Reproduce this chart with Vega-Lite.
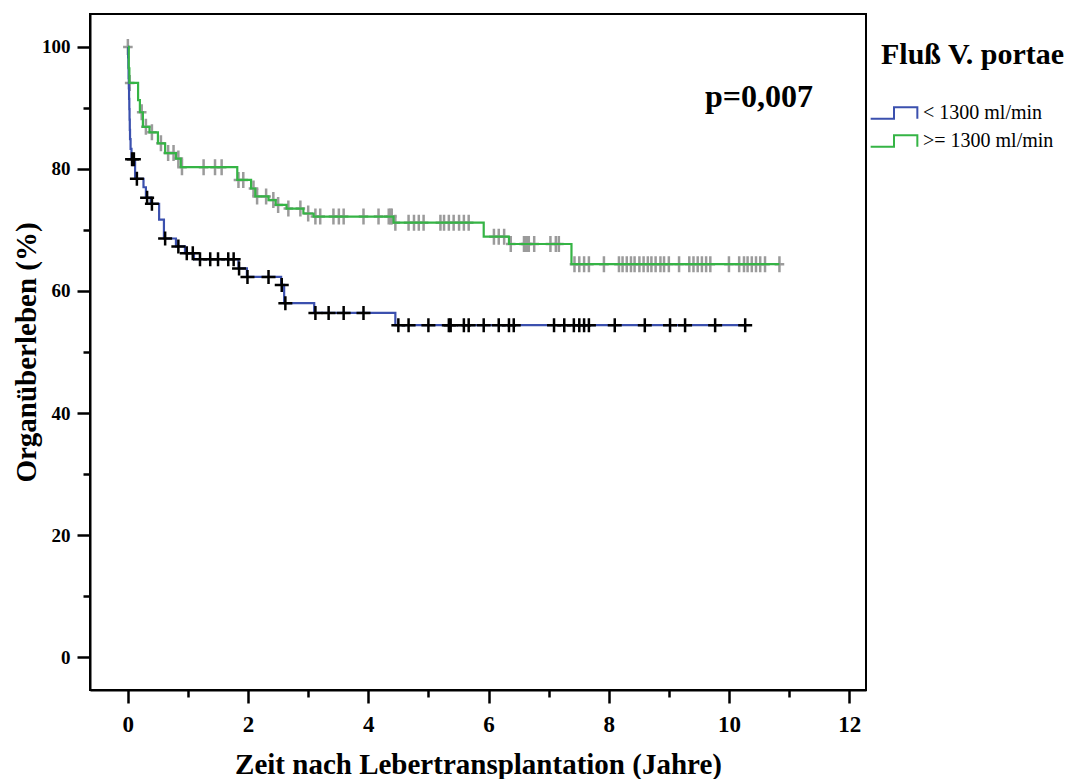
{
  "$schema": "https://vega.github.io/schema/vega-lite/v6.json",
  "width": 776,
  "height": 676,
  "autosize": "none",
  "padding": {"left": 90, "top": 14, "right": 214, "bottom": 89},
  "background": "white",
  "config": {
    "font": "Liberation Serif",
    "view": {"stroke": "black", "strokeWidth": 2}
  },
  "datasets": {
    "km": [
      {"grp": "< 1300 ml/min", "t": 0, "s": 100},
      {"grp": "< 1300 ml/min", "t": 0.004, "s": 98.3},
      {"grp": "< 1300 ml/min", "t": 0.008, "s": 96.6},
      {"grp": "< 1300 ml/min", "t": 0.012, "s": 94.9},
      {"grp": "< 1300 ml/min", "t": 0.016, "s": 93.2},
      {"grp": "< 1300 ml/min", "t": 0.02, "s": 91.5},
      {"grp": "< 1300 ml/min", "t": 0.024, "s": 89.8},
      {"grp": "< 1300 ml/min", "t": 0.028, "s": 88.1},
      {"grp": "< 1300 ml/min", "t": 0.032, "s": 86.4},
      {"grp": "< 1300 ml/min", "t": 0.036, "s": 84.9},
      {"grp": "< 1300 ml/min", "t": 0.045, "s": 83.3},
      {"grp": "< 1300 ml/min", "t": 0.06, "s": 81.6},
      {"grp": "< 1300 ml/min", "t": 0.12, "s": 78.4},
      {"grp": "< 1300 ml/min", "t": 0.26, "s": 77.0},
      {"grp": "< 1300 ml/min", "t": 0.3, "s": 75.3},
      {"grp": "< 1300 ml/min", "t": 0.38, "s": 74.3},
      {"grp": "< 1300 ml/min", "t": 0.52, "s": 71.7},
      {"grp": "< 1300 ml/min", "t": 0.6, "s": 68.6},
      {"grp": "< 1300 ml/min", "t": 0.8, "s": 67.3},
      {"grp": "< 1300 ml/min", "t": 0.95, "s": 66.2},
      {"grp": "< 1300 ml/min", "t": 1.1, "s": 65.2},
      {"grp": "< 1300 ml/min", "t": 1.84, "s": 63.7},
      {"grp": "< 1300 ml/min", "t": 1.98, "s": 62.3},
      {"grp": "< 1300 ml/min", "t": 2.55, "s": 61.0},
      {"grp": "< 1300 ml/min", "t": 2.6, "s": 58.0},
      {"grp": "< 1300 ml/min", "t": 3.1, "s": 56.4},
      {"grp": "< 1300 ml/min", "t": 4.45, "s": 54.4},
      {"grp": "< 1300 ml/min", "t": 10.27, "s": 54.4},
      {"grp": ">= 1300 ml/min", "t": 0, "s": 100},
      {"grp": ">= 1300 ml/min", "t": 0.015, "s": 96.5},
      {"grp": ">= 1300 ml/min", "t": 0.025, "s": 94.1},
      {"grp": ">= 1300 ml/min", "t": 0.17, "s": 91.3},
      {"grp": ">= 1300 ml/min", "t": 0.2, "s": 89.3},
      {"grp": ">= 1300 ml/min", "t": 0.25, "s": 86.9},
      {"grp": ">= 1300 ml/min", "t": 0.36, "s": 86.0},
      {"grp": ">= 1300 ml/min", "t": 0.5, "s": 84.2},
      {"grp": ">= 1300 ml/min", "t": 0.62, "s": 82.6},
      {"grp": ">= 1300 ml/min", "t": 0.8, "s": 81.7},
      {"grp": ">= 1300 ml/min", "t": 0.88, "s": 80.3},
      {"grp": ">= 1300 ml/min", "t": 1.82, "s": 78.2},
      {"grp": ">= 1300 ml/min", "t": 2.05, "s": 76.8},
      {"grp": ">= 1300 ml/min", "t": 2.12, "s": 75.5},
      {"grp": ">= 1300 ml/min", "t": 2.34, "s": 74.9},
      {"grp": ">= 1300 ml/min", "t": 2.46, "s": 74.1},
      {"grp": ">= 1300 ml/min", "t": 2.64, "s": 73.5},
      {"grp": ">= 1300 ml/min", "t": 2.92, "s": 72.7},
      {"grp": ">= 1300 ml/min", "t": 3.09, "s": 72.2},
      {"grp": ">= 1300 ml/min", "t": 4.42, "s": 71.2},
      {"grp": ">= 1300 ml/min", "t": 5.92, "s": 68.9},
      {"grp": ">= 1300 ml/min", "t": 6.34, "s": 67.7},
      {"grp": ">= 1300 ml/min", "t": 7.38, "s": 64.4},
      {"grp": ">= 1300 ml/min", "t": 10.84, "s": 64.4}
    ],
    "censored": [
      {"grp": "< 1300 ml/min", "t": 0.07, "s": 81.6},
      {"grp": "< 1300 ml/min", "t": 0.1, "s": 81.6},
      {"grp": "< 1300 ml/min", "t": 0.15, "s": 78.4},
      {"grp": "< 1300 ml/min", "t": 0.32, "s": 75.3},
      {"grp": "< 1300 ml/min", "t": 0.4, "s": 74.3},
      {"grp": "< 1300 ml/min", "t": 0.62, "s": 68.6},
      {"grp": "< 1300 ml/min", "t": 0.84, "s": 67.3},
      {"grp": "< 1300 ml/min", "t": 0.98, "s": 66.2},
      {"grp": "< 1300 ml/min", "t": 1.08, "s": 66.2},
      {"grp": "< 1300 ml/min", "t": 1.2, "s": 65.2},
      {"grp": "< 1300 ml/min", "t": 1.37, "s": 65.2},
      {"grp": "< 1300 ml/min", "t": 1.5, "s": 65.2},
      {"grp": "< 1300 ml/min", "t": 1.67, "s": 65.2},
      {"grp": "< 1300 ml/min", "t": 1.76, "s": 65.2},
      {"grp": "< 1300 ml/min", "t": 1.85, "s": 63.7},
      {"grp": "< 1300 ml/min", "t": 1.99, "s": 62.3},
      {"grp": "< 1300 ml/min", "t": 2.34, "s": 62.3},
      {"grp": "< 1300 ml/min", "t": 2.56, "s": 61.0},
      {"grp": "< 1300 ml/min", "t": 2.62, "s": 58.0},
      {"grp": "< 1300 ml/min", "t": 3.12, "s": 56.4},
      {"grp": "< 1300 ml/min", "t": 3.34, "s": 56.4},
      {"grp": "< 1300 ml/min", "t": 3.59, "s": 56.4},
      {"grp": "< 1300 ml/min", "t": 3.92, "s": 56.4},
      {"grp": "< 1300 ml/min", "t": 4.5, "s": 54.4},
      {"grp": "< 1300 ml/min", "t": 4.67, "s": 54.4},
      {"grp": "< 1300 ml/min", "t": 5.0, "s": 54.4},
      {"grp": "< 1300 ml/min", "t": 5.34, "s": 54.4},
      {"grp": "< 1300 ml/min", "t": 5.37, "s": 54.4},
      {"grp": "< 1300 ml/min", "t": 5.59, "s": 54.4},
      {"grp": "< 1300 ml/min", "t": 5.67, "s": 54.4},
      {"grp": "< 1300 ml/min", "t": 5.92, "s": 54.4},
      {"grp": "< 1300 ml/min", "t": 6.17, "s": 54.4},
      {"grp": "< 1300 ml/min", "t": 6.34, "s": 54.4},
      {"grp": "< 1300 ml/min", "t": 6.42, "s": 54.4},
      {"grp": "< 1300 ml/min", "t": 7.09, "s": 54.4},
      {"grp": "< 1300 ml/min", "t": 7.26, "s": 54.4},
      {"grp": "< 1300 ml/min", "t": 7.42, "s": 54.4},
      {"grp": "< 1300 ml/min", "t": 7.51, "s": 54.4},
      {"grp": "< 1300 ml/min", "t": 7.59, "s": 54.4},
      {"grp": "< 1300 ml/min", "t": 7.67, "s": 54.4},
      {"grp": "< 1300 ml/min", "t": 8.1, "s": 54.4},
      {"grp": "< 1300 ml/min", "t": 8.6, "s": 54.4},
      {"grp": "< 1300 ml/min", "t": 9.02, "s": 54.4},
      {"grp": "< 1300 ml/min", "t": 9.27, "s": 54.4},
      {"grp": "< 1300 ml/min", "t": 9.77, "s": 54.4},
      {"grp": "< 1300 ml/min", "t": 10.27, "s": 54.4},
      {"grp": ">= 1300 ml/min", "t": 0, "s": 100},
      {"grp": ">= 1300 ml/min", "t": 0.03, "s": 94.1},
      {"grp": ">= 1300 ml/min", "t": 0.23, "s": 89.3},
      {"grp": ">= 1300 ml/min", "t": 0.3, "s": 86.9},
      {"grp": ">= 1300 ml/min", "t": 0.4, "s": 86.0},
      {"grp": ">= 1300 ml/min", "t": 0.55, "s": 84.2},
      {"grp": ">= 1300 ml/min", "t": 0.67, "s": 82.6},
      {"grp": ">= 1300 ml/min", "t": 0.76, "s": 82.6},
      {"grp": ">= 1300 ml/min", "t": 0.84, "s": 81.7},
      {"grp": ">= 1300 ml/min", "t": 0.9, "s": 80.3},
      {"grp": ">= 1300 ml/min", "t": 1.26, "s": 80.3},
      {"grp": ">= 1300 ml/min", "t": 1.45, "s": 80.3},
      {"grp": ">= 1300 ml/min", "t": 1.56, "s": 80.3},
      {"grp": ">= 1300 ml/min", "t": 1.84, "s": 78.2},
      {"grp": ">= 1300 ml/min", "t": 1.92, "s": 78.2},
      {"grp": ">= 1300 ml/min", "t": 2.09, "s": 76.8},
      {"grp": ">= 1300 ml/min", "t": 2.15, "s": 75.5},
      {"grp": ">= 1300 ml/min", "t": 2.3, "s": 75.5},
      {"grp": ">= 1300 ml/min", "t": 2.42, "s": 74.9},
      {"grp": ">= 1300 ml/min", "t": 2.5, "s": 74.1},
      {"grp": ">= 1300 ml/min", "t": 2.67, "s": 73.5},
      {"grp": ">= 1300 ml/min", "t": 2.87, "s": 73.5},
      {"grp": ">= 1300 ml/min", "t": 3.0, "s": 72.7},
      {"grp": ">= 1300 ml/min", "t": 3.12, "s": 72.2},
      {"grp": ">= 1300 ml/min", "t": 3.2, "s": 72.2},
      {"grp": ">= 1300 ml/min", "t": 3.42, "s": 72.2},
      {"grp": ">= 1300 ml/min", "t": 3.51, "s": 72.2},
      {"grp": ">= 1300 ml/min", "t": 3.59, "s": 72.2},
      {"grp": ">= 1300 ml/min", "t": 3.92, "s": 72.2},
      {"grp": ">= 1300 ml/min", "t": 4.17, "s": 72.2},
      {"grp": ">= 1300 ml/min", "t": 4.34, "s": 72.2},
      {"grp": ">= 1300 ml/min", "t": 4.37, "s": 72.2},
      {"grp": ">= 1300 ml/min", "t": 4.39, "s": 72.2},
      {"grp": ">= 1300 ml/min", "t": 4.45, "s": 71.2},
      {"grp": ">= 1300 ml/min", "t": 4.67, "s": 71.2},
      {"grp": ">= 1300 ml/min", "t": 4.76, "s": 71.2},
      {"grp": ">= 1300 ml/min", "t": 4.84, "s": 71.2},
      {"grp": ">= 1300 ml/min", "t": 4.92, "s": 71.2},
      {"grp": ">= 1300 ml/min", "t": 5.2, "s": 71.2},
      {"grp": ">= 1300 ml/min", "t": 5.26, "s": 71.2},
      {"grp": ">= 1300 ml/min", "t": 5.34, "s": 71.2},
      {"grp": ">= 1300 ml/min", "t": 5.42, "s": 71.2},
      {"grp": ">= 1300 ml/min", "t": 5.51, "s": 71.2},
      {"grp": ">= 1300 ml/min", "t": 5.59, "s": 71.2},
      {"grp": ">= 1300 ml/min", "t": 5.67, "s": 71.2},
      {"grp": ">= 1300 ml/min", "t": 6.09, "s": 68.9},
      {"grp": ">= 1300 ml/min", "t": 6.17, "s": 68.9},
      {"grp": ">= 1300 ml/min", "t": 6.26, "s": 68.9},
      {"grp": ">= 1300 ml/min", "t": 6.37, "s": 67.7},
      {"grp": ">= 1300 ml/min", "t": 6.59, "s": 67.7},
      {"grp": ">= 1300 ml/min", "t": 6.62, "s": 67.7},
      {"grp": ">= 1300 ml/min", "t": 6.64, "s": 67.7},
      {"grp": ">= 1300 ml/min", "t": 6.67, "s": 67.7},
      {"grp": ">= 1300 ml/min", "t": 6.76, "s": 67.7},
      {"grp": ">= 1300 ml/min", "t": 7.03, "s": 67.7},
      {"grp": ">= 1300 ml/min", "t": 7.12, "s": 67.7},
      {"grp": ">= 1300 ml/min", "t": 7.17, "s": 67.7},
      {"grp": ">= 1300 ml/min", "t": 7.43, "s": 64.4},
      {"grp": ">= 1300 ml/min", "t": 7.51, "s": 64.4},
      {"grp": ">= 1300 ml/min", "t": 7.59, "s": 64.4},
      {"grp": ">= 1300 ml/min", "t": 7.67, "s": 64.4},
      {"grp": ">= 1300 ml/min", "t": 7.92, "s": 64.4},
      {"grp": ">= 1300 ml/min", "t": 8.17, "s": 64.4},
      {"grp": ">= 1300 ml/min", "t": 8.23, "s": 64.4},
      {"grp": ">= 1300 ml/min", "t": 8.3, "s": 64.4},
      {"grp": ">= 1300 ml/min", "t": 8.37, "s": 64.4},
      {"grp": ">= 1300 ml/min", "t": 8.43, "s": 64.4},
      {"grp": ">= 1300 ml/min", "t": 8.51, "s": 64.4},
      {"grp": ">= 1300 ml/min", "t": 8.58, "s": 64.4},
      {"grp": ">= 1300 ml/min", "t": 8.65, "s": 64.4},
      {"grp": ">= 1300 ml/min", "t": 8.71, "s": 64.4},
      {"grp": ">= 1300 ml/min", "t": 8.78, "s": 64.4},
      {"grp": ">= 1300 ml/min", "t": 8.86, "s": 64.4},
      {"grp": ">= 1300 ml/min", "t": 8.92, "s": 64.4},
      {"grp": ">= 1300 ml/min", "t": 9.0, "s": 64.4},
      {"grp": ">= 1300 ml/min", "t": 9.17, "s": 64.4},
      {"grp": ">= 1300 ml/min", "t": 9.34, "s": 64.4},
      {"grp": ">= 1300 ml/min", "t": 9.41, "s": 64.4},
      {"grp": ">= 1300 ml/min", "t": 9.48, "s": 64.4},
      {"grp": ">= 1300 ml/min", "t": 9.55, "s": 64.4},
      {"grp": ">= 1300 ml/min", "t": 9.62, "s": 64.4},
      {"grp": ">= 1300 ml/min", "t": 9.69, "s": 64.4},
      {"grp": ">= 1300 ml/min", "t": 10.0, "s": 64.4},
      {"grp": ">= 1300 ml/min", "t": 10.17, "s": 64.4},
      {"grp": ">= 1300 ml/min", "t": 10.25, "s": 64.4},
      {"grp": ">= 1300 ml/min", "t": 10.31, "s": 64.4},
      {"grp": ">= 1300 ml/min", "t": 10.38, "s": 64.4},
      {"grp": ">= 1300 ml/min", "t": 10.45, "s": 64.4},
      {"grp": ">= 1300 ml/min", "t": 10.52, "s": 64.4},
      {"grp": ">= 1300 ml/min", "t": 10.6, "s": 64.4},
      {"grp": ">= 1300 ml/min", "t": 10.84, "s": 64.4}
    ],
    "annotation": [
      {"t": 10.5, "s": 91.8, "label": "p=0,007"}
    ]
  },
  "encoding": {
    "x": {
      "field": "t",
      "type": "quantitative",
      "scale": {"domain": [-0.63, 12.28], "nice": false, "zero": false},
      "axis": {
        "title": "Zeit nach Lebertransplantation (Jahre)",
        "values": [0, 1, 2, 3, 4, 5, 6, 7, 8, 9, 10, 11, 12],
        "labelExpr": "datum.value % 2 === 0 ? datum.label : ''",
        "tickSize": {"condition": {"test": "datum.value % 2 !== 0", "value": 7}, "value": 13},
        "tickWidth": 2.5,
        "tickColor": "black",
        "domainColor": "black",
        "domainWidth": 2,
        "grid": false,
        "labelFont": "Liberation Serif",
        "labelFontWeight": "bold",
        "labelFontSize": 23,
        "labelColor": "black",
        "labelPadding": 10,
        "labelFlush": false,
        "labelOverlap": false,
        "titleFont": "Liberation Serif",
        "titleFontWeight": "bold",
        "titleFontSize": 29,
        "titleColor": "black",
        "titlePadding": 14
      }
    },
    "y": {
      "field": "s",
      "type": "quantitative",
      "scale": {"domain": [-5.4, 105.4], "nice": false, "zero": false},
      "axis": {
        "title": "Organüberleben (%)",
        "values": [0, 10, 20, 30, 40, 50, 60, 70, 80, 90, 100],
        "labelExpr": "datum.value % 20 === 0 ? datum.label : ''",
        "tickSize": {"condition": {"test": "datum.value % 20 !== 0", "value": 7}, "value": 13},
        "tickWidth": 2.5,
        "tickColor": "black",
        "domainColor": "black",
        "domainWidth": 2,
        "grid": false,
        "labelFont": "Liberation Serif",
        "labelFontWeight": "bold",
        "labelFontSize": 19,
        "labelColor": "black",
        "labelPadding": 7,
        "labelOverlap": false,
        "titleFont": "Liberation Serif",
        "titleFontWeight": "bold",
        "titleFontSize": 29,
        "titleColor": "black",
        "titlePadding": 0
      }
    }
  },
  "layer": [
    {
      "data": {"name": "censored"},
      "transform": [{"filter": "datum.grp === '>= 1300 ml/min'"}],
      "mark": {"type": "point", "shape": "M0,-1V1M-0.6,0H0.6", "filled": false, "size": 256, "stroke": "#9b9b9b", "strokeWidth": 2.5, "opacity": 1}
    },
    {
      "data": {"name": "km"},
      "mark": {"type": "line", "interpolate": "step-after", "strokeWidth": 2.2},
      "encoding": {
        "color": {
          "field": "grp",
          "type": "nominal",
          "scale": {"domain": ["< 1300 ml/min", ">= 1300 ml/min"], "range": ["#3b50ae", "#35b445"]},
          "legend": {
            "title": "Fluß V. portae",
            "orient": "none",
            "legendX": 791,
            "legendY": 26,
            "titleFont": "Liberation Serif",
            "titleFontWeight": "bold",
            "titleFontSize": 30,
            "titleColor": "black",
            "titleLimit": 400,
            "titlePadding": 30,
            "labelFont": "Liberation Serif",
            "labelFontSize": 20,
            "labelColor": "black",
            "labelLimit": 300,
            "labelOffset": 16,
            "symbolType": "M-2,0.5H0V-0.5H2V0.5",
            "symbolSize": 545,
            "symbolStrokeWidth": 2,
            "rowPadding": 5
          }
        }
      }
    },
    {
      "data": {"name": "censored"},
      "transform": [{"filter": "datum.grp === '< 1300 ml/min'"}],
      "mark": {"type": "point", "shape": "M0,-1V1M-1,0H1", "filled": false, "size": 196, "stroke": "black", "strokeWidth": 2.5, "opacity": 1}
    },
    {
      "data": {"name": "annotation"},
      "mark": {"type": "text", "font": "Liberation Serif", "fontWeight": "bold", "fontSize": 32, "color": "black", "align": "center", "baseline": "middle"},
      "encoding": {"text": {"field": "label"}}
    }
  ]
}
